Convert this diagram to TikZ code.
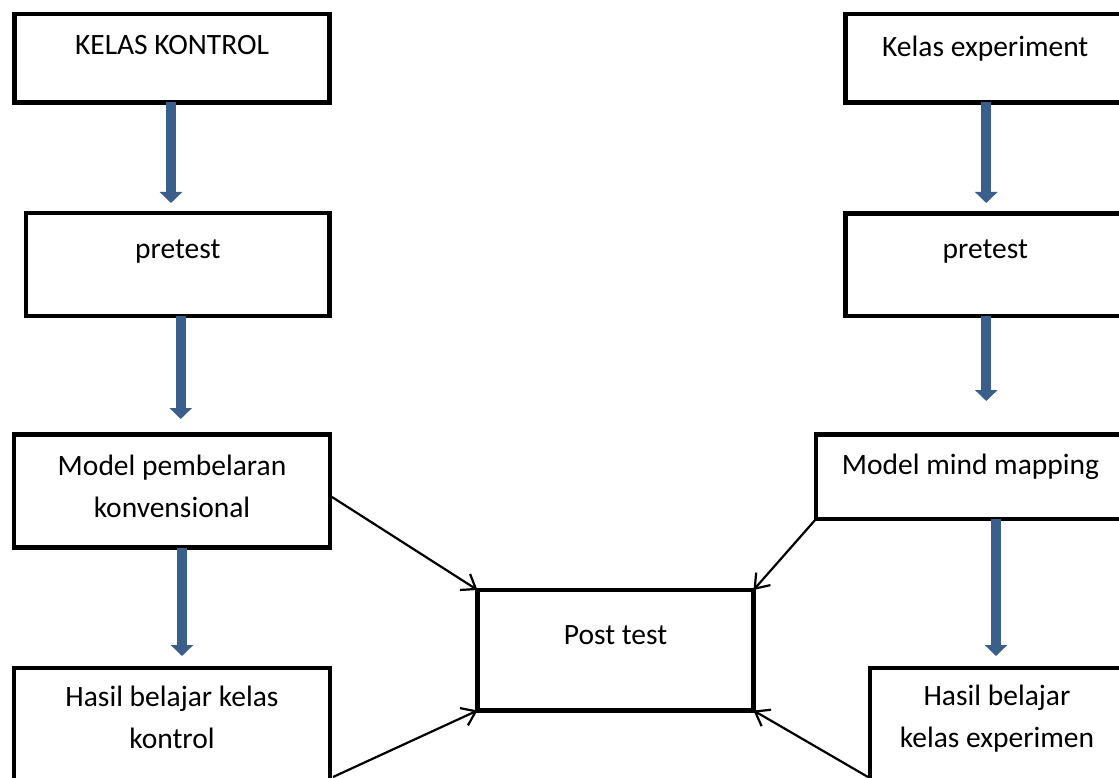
\documentclass[tikz,border=0pt]{standalone}
\usepackage{fontspec}
\setmainfont{Carlito}
\usepackage{tikz}
\usetikzlibrary{arrows.meta, positioning, calc}

\definecolor{flowblue}{RGB}{58,95,139}

\begin{document}
\begin{tikzpicture}[
    x=1pt, y=-1pt,
    % Styles
    kotak/.style={draw, line width=4.5pt, rectangle, outer sep=0pt, inner sep=0pt},
    isi/.style={inner sep=0pt, align=center, font=\fontsize{29.5}{42}\selectfont},
    alur/.style={line width=10pt, color=flowblue, -{Triangle[width=22pt, length=11pt]}},
    panah/.style={line width=2.2pt, -{Straight Barb[length=13pt, width=19pt]}}
]
    % Page frame (right and bottom boxes run off the page)
    \path[fill=white, use as bounding box] (0,0) rectangle (1119,778);
    \clip (0,0) rectangle (1119,778);

    % Kelas kontrol column
    \node[kotak, minimum width=315pt, minimum height=88.5pt] (kontrol) at (172,58.25) {};
    \node[kotak, minimum width=303.5pt, minimum height=103pt] (preK) at (177.75,264.5) {};
    \node[kotak, minimum width=316pt, minimum height=113pt] (modelK) at (172,491) {};
    \node[kotak, minimum width=316pt, minimum height=124pt] (hasilK) at (172,730) {};

    % Post test
    \node[kotak, minimum width=276pt, minimum height=120.5pt] (post) at (615.5,650.25) {};

    % Kelas experiment column
    \node[kotak, minimum width=279.5pt, minimum height=88.5pt] (eksp) at (985.25,58.25) {};
    \node[kotak, minimum width=279.5pt, minimum height=102.5pt] (preE) at (985.25,264.75) {};
    \node[kotak, minimum width=309pt, minimum height=84.5pt] (modelE) at (970.5,476.75) {};
    \node[kotak, minimum width=254pt, minimum height=124pt] (hasilE) at (997,730) {};

    % Texts (set near the top of each box)
    \node[isi] (kontrol-t) at ($(kontrol.north)+(0,31)$) {KELAS KONTROL};
    \node[isi] (preK-t) at ($(preK.north)+(0,39)$) {pretest};
    \node[isi] (modelK-t) at ($(modelK.north)+(0,51.5)$) {Model pembelaran\\konvensional};
    \node[isi] (hasilK-t) at ($(hasilK.north)+(0,49)$) {Hasil belajar kelas\\kontrol};
    \node[isi] (post-t) at ($(post.north)+(0,45)$) {Post test};
    \node[isi] (eksp-t) at ($(eksp.north)+(0,35)$) {Kelas experiment};
    \node[isi] (preE-t) at ($(preE.north)+(0,38.5)$) {pretest};
    \node[isi] (modelE-t) at ($(modelE.north)+(0,32.5)$) {Model mind mapping};
    \node[isi] (hasilE-t) at ($(hasilE.north)+(0,51)$) {Hasil belajar\\kelas experimen};

    % Blue flow arrows
    \draw[alur, shorten >=10pt] ([xshift=-1pt]kontrol.south) -- ([xshift=-1pt]kontrol.south |- preK.north);
    \draw[alur, shorten >=15.5pt] ([xshift=3pt]preK.south) -- ([xshift=3pt]preK.south |- modelK.north);
    \draw[alur, shorten >=12pt] ([xshift=10pt]modelK.south) -- ([xshift=10pt]modelK.south |- hasilK.north);
    \draw[alur, shorten >=10.5pt] ([xshift=1pt]eksp.south) -- ([xshift=1pt]eksp.south |- preE.north);
    \draw[alur, shorten >=33.5pt] ([xshift=1pt]preE.south) -- ([xshift=1pt]preE.south |- modelE.north);
    \draw[alur, shorten >=12pt] ([xshift=-1pt]hasilE.north |- modelE.south) -- ([xshift=-1pt]hasilE.north);

    % Arrows into Post test
    \draw[panah] ($(modelK.east)+(2,6)$) -- (post.north west);
    \draw[panah] ($(hasilK.east)+(3,47)$) -- (post.south west);
    \draw[panah] (modelE.south west) -- (post.north east);
    \draw[panah] ($(hasilE.west)+(-2,47)$) -- (post.south east);
\end{tikzpicture}
\end{document}
